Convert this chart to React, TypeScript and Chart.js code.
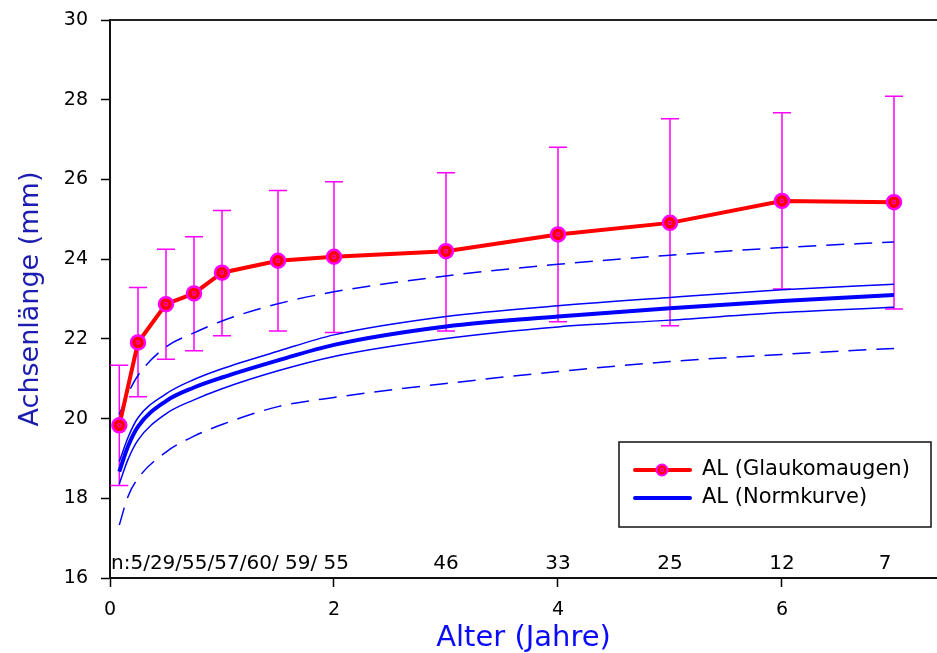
import React, { useEffect, useRef } from 'react';
import { Chart, registerables } from 'chart.js';

Chart.register(...registerables);

const FONT = 'DejaVu Sans';

// Age (years) of the measurement groups
const ages = [0.083, 0.25, 0.5, 0.75, 1, 1.5, 2, 3, 4, 5, 6, 7];

// Glaucoma eyes: mean axial length and error bar limits (mm)
const glaucomaMean = [19.83, 21.91, 22.87, 23.14, 23.66, 23.96, 24.06, 24.2, 24.62, 24.91, 25.46, 25.43];
const glaucomaUpper = [21.34, 23.29, 24.25, 24.56, 25.22, 25.72, 25.94, 26.17, 26.81, 27.52, 27.67, 28.09];
const glaucomaLower = [18.32, 20.55, 21.49, 21.7, 22.08, 22.2, 22.16, 22.2, 22.43, 22.33, 23.25, 22.75];

// Norm curve (mean, inner band, outer dashed band)
const normAges = [0.083, 0.16, 0.25, 0.5, 0.75, 1, 1.5, 2, 3, 4, 5, 6, 7];
const normMean = [18.67, 19.3, 19.8, 20.44, 20.78, 21.03, 21.46, 21.85, 22.31, 22.56, 22.77, 22.95, 23.1];
const normUpper1 = [18.92, 19.52, 20.02, 20.62, 20.98, 21.25, 21.69, 22.1, 22.56, 22.83, 23.04, 23.23, 23.37];
const normLower1 = [18.36, 18.97, 19.46, 20.12, 20.47, 20.75, 21.2, 21.56, 22.01, 22.3, 22.47, 22.66, 22.79];
const normUpper2 = [20.1, 20.62, 21.08, 21.8, 22.15, 22.45, 22.88, 23.18, 23.58, 23.87, 24.1, 24.29, 24.43];
const normLower2 = [17.33, 18.04, 18.5, 19.16, 19.56, 19.85, 20.3, 20.53, 20.88, 21.18, 21.43, 21.61, 21.76];

// Sample sizes written above the x axis
const countPrefix = 'n:5/29/55/57/60/ 59/ 55';
const countLabels = ['46', '33', '25', '12', '7'];
const countAges = [3, 4, 5, 6, 6.92];

const xTicks = [0, 2, 4, 6];
const xMin = 0;
const xMax = 7.384;
const yMin = 16;
const yMax = 30;
const yStep = 2;

const legendLabels = ['AL (Glaukomaugen)', 'AL (Normkurve)'];
const xTitle = 'Alter (Jahre)';
const yTitle = 'Achsenlänge (mm)';

const toPoints = (xs: number[], ys: number[]) => xs.map((x, i) => ({ x, y: ys[i] }));

const RED = '#ff0000';
const MAGENTA = '#ff00ff';
const BLUE = '#0000ff';

const decorPlugin = {
  id: 'decor',
  afterLayout(chart: any) {
    // let the plot area run to the right edge of the canvas, as in the original
    const xs = chart.scales.x;
    const right = chart.width;
    chart.chartArea.right = right;
    chart.chartArea.width = right - chart.chartArea.left;
    xs.right = right;
    xs.width = right - xs.left;
    xs.configure();
  },
  beforeDatasetsDraw(chart: any) {
    const { ctx, scales } = chart;
    const xs = scales.x;
    const ys = scales.y;
    ctx.save();
    ctx.strokeStyle = MAGENTA;
    ctx.lineWidth = 1.5;
    ages.forEach((a, i) => {
      const px = xs.getPixelForValue(a);
      const pu = ys.getPixelForValue(glaucomaUpper[i]);
      const pl = ys.getPixelForValue(glaucomaLower[i]);
      ctx.beginPath();
      ctx.moveTo(px, pu);
      ctx.lineTo(px, pl);
      ctx.moveTo(px - 9, pu);
      ctx.lineTo(px + 9, pu);
      ctx.moveTo(px - 9, pl);
      ctx.lineTo(px + 9, pl);
      ctx.stroke();
    });
    ctx.restore();
  },
  afterDatasetsDraw(chart: any) {
    const { ctx, scales, chartArea } = chart;
    const xs = scales.x;
    const ys = scales.y;
    ctx.save();
    // small centre rings on markers
    ctx.strokeStyle = MAGENTA;
    ctx.lineWidth = 1;
    ages.forEach((a, i) => {
      const px = xs.getPixelForValue(a);
      const py = ys.getPixelForValue(glaucomaMean[i]);
      ctx.beginPath();
      ctx.arc(px, py, 1.8, 0, Math.PI * 2);
      ctx.stroke();
    });
    // top frame line
    ctx.strokeStyle = '#222';
    ctx.lineWidth = 2;
    ctx.beginPath();
    ctx.moveTo(chartArea.left, chartArea.top);
    ctx.lineTo(chartArea.right, chartArea.top);
    ctx.stroke();
    // sample sizes
    ctx.fillStyle = '#000';
    ctx.font = `20px "${FONT}"`;
    ctx.textBaseline = 'middle';
    const ny = chartArea.bottom - 14;
    ctx.textAlign = 'left';
    ctx.fillText(countPrefix, chartArea.left + 1, ny);
    ctx.textAlign = 'center';
    countLabels.forEach((t, i) => {
      ctx.fillText(t, xs.getPixelForValue(countAges[i]), ny);
    });
    ctx.restore();
  },
  afterDraw(chart: any) {
    const { ctx } = chart;
    ctx.save();
    const bx = 619, by = 442, bw = 312, bh = 85;
    ctx.fillStyle = '#fff';
    ctx.fillRect(bx, by, bw, bh);
    ctx.strokeStyle = '#111';
    ctx.lineWidth = 1.5;
    ctx.strokeRect(bx, by, bw, bh);
    const rows = [470, 498];
    // red item
    ctx.lineCap = 'round';
    ctx.strokeStyle = RED;
    ctx.lineWidth = 4;
    ctx.beginPath();
    ctx.moveTo(635, rows[0]);
    ctx.lineTo(690, rows[0]);
    ctx.stroke();
    ctx.fillStyle = RED;
    ctx.strokeStyle = MAGENTA;
    ctx.lineWidth = 2;
    ctx.beginPath();
    ctx.arc(662, rows[0], 5.5, 0, Math.PI * 2);
    ctx.fill();
    ctx.stroke();
    ctx.lineWidth = 1;
    ctx.beginPath();
    ctx.arc(662, rows[0], 1.8, 0, Math.PI * 2);
    ctx.stroke();
    // blue item
    ctx.strokeStyle = BLUE;
    ctx.lineWidth = 4;
    ctx.beginPath();
    ctx.moveTo(635, rows[1]);
    ctx.lineTo(690, rows[1]);
    ctx.stroke();
    ctx.fillStyle = '#000';
    ctx.font = `21px "${FONT}"`;
    ctx.textAlign = 'left';
    ctx.textBaseline = 'middle';
    ctx.fillText(legendLabels[0], 702, rows[0]);
    ctx.fillText(legendLabels[1], 702, rows[1]);
    ctx.restore();
  },
};

export default function App() {
  const ref = useRef<HTMLCanvasElement | null>(null);

  useEffect(() => {
    if (!ref.current) return;
    const thin = { borderColor: BLUE, borderWidth: 1.5, pointRadius: 0, cubicInterpolationMode: 'monotone' as const, fill: false };
    const chart = new Chart(ref.current, {
      type: 'line',
      data: {
        datasets: [
          {
            label: legendLabels[0],
            data: toPoints(ages, glaucomaMean),
            borderColor: RED,
            borderWidth: 4,
            pointRadius: 7,
            pointBackgroundColor: RED,
            pointBorderColor: MAGENTA,
            pointBorderWidth: 2.5,
            tension: 0,
            fill: false,
          },
          {
            label: legendLabels[1],
            data: toPoints(normAges, normMean),
            borderColor: BLUE,
            borderWidth: 4,
            pointRadius: 0,
            cubicInterpolationMode: 'monotone',
            fill: false,
          },
          { label: 'upper1', data: toPoints(normAges, normUpper1), ...thin },
          { label: 'lower1', data: toPoints(normAges, normLower1), ...thin },
          { label: 'upper2', data: toPoints(normAges, normUpper2), ...thin, borderDash: [18, 10] },
          { label: 'lower2', data: toPoints(normAges, normLower2), ...thin, borderDash: [18, 10] },
        ],
      },
      options: {
        responsive: false,
        animation: false,
        layout: { padding: { top: 20, right: 0, left: 0, bottom: 0 } },
        plugins: { legend: { display: false }, tooltip: { enabled: false } },
        scales: {
          x: {
            type: 'linear',
            min: xMin,
            max: xMax,
            afterBuildTicks: (s: any) => {
              s.ticks = xTicks.map((v) => ({ value: v }));
            },
            afterFit: (s: any) => {
              s.height = 75;
              s.paddingRight = 0;
              s.paddingLeft = 0;
            },
            ticks: { color: '#000', font: { family: FONT, size: 19 }, padding: 12, autoSkip: false, maxRotation: 0 },
            grid: { drawOnChartArea: false, drawTicks: true, tickLength: 9, tickColor: '#000', tickWidth: 1.5 },
            border: { display: true, color: '#111', width: 2 },
            title: {
              display: true,
              text: xTitle,
              color: '#0a0aff',
              font: { family: FONT, size: 29, lineHeight: 1 },
              padding: { top: 0, bottom: 0 },
            },
          },
          y: {
            type: 'linear',
            min: yMin,
            max: yMax,
            afterFit: (s: any) => {
              s.width = 110;
              s.paddingTop = 0;
              s.paddingBottom = 0;
            },
            ticks: { stepSize: yStep, color: '#000', font: { family: FONT, size: 19 }, padding: 13 },
            grid: { drawOnChartArea: false, drawTicks: true, tickLength: 9, tickColor: '#000', tickWidth: 1.5 },
            border: { display: true, color: '#111', width: 2 },
            title: {
              display: true,
              text: yTitle,
              color: '#1c1cb0',
              font: { family: FONT, size: 27, lineHeight: 1.2 },
              padding: { top: 15, bottom: 0 },
            },
          },
        },
      },
      plugins: [decorPlugin],
    });
    return () => chart.destroy();
  }, []);

  return (
    <div style={{ position: 'fixed', left: 0, top: 0, width: 937, height: 653, background: '#fff' }}>
      <canvas ref={ref} width={937} height={653} />
    </div>
  );
}
